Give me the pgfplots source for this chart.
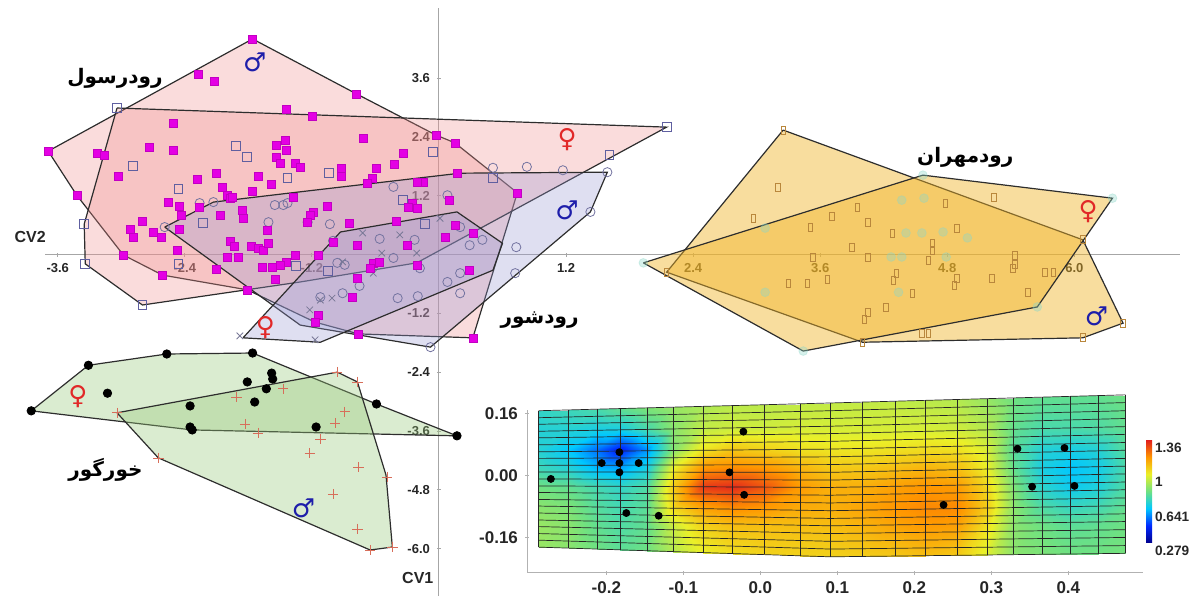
\documentclass[border=0pt]{standalone}
\usepackage{pgfplots}
\pgfplotsset{compat=1.18}
\usepackage{fontspec}
\setmainfont{Liberation Sans}
\newfontfamily\arabicfont[Script=Arabic]{DejaVu Sans}
\newfontfamily\symfont{DejaVu Sans}
\TeXXeTstate=1
\definecolor{mag}{RGB}{228,0,228}
\definecolor{sqb}{RGB}{95,95,160}
\definecolor{circ}{RGB}{115,115,160}
\definecolor{crossc}{RGB}{120,120,150}
\definecolor{pinkf}{RGB}{240,140,140}
\definecolor{lavf}{RGB}{150,150,210}
\definecolor{orf}{RGB}{240,180,40}
\definecolor{grf}{RGB}{150,200,120}
\definecolor{brownr}{RGB}{185,135,60}
\definecolor{cyanf}{RGB}{140,215,200}
\definecolor{plusc}{RGB}{215,110,90}
\definecolor{maleb}{RGB}{30,30,170}
\definecolor{femr}{RGB}{225,40,40}
\definecolor{hull}{RGB}{45,45,45}
\pgfkeys{/pgf/number format/assume math mode=true}
\begin{document}
\begin{tikzpicture}
\begin{axis}[
  name=main,
  x=52.95pt, y=24.5pt,
  xmin=-4.145, xmax=7.110, ymin=-6.969, ymax=5.194,
  axis lines=middle,
  axis line style={-, draw=gray!70, line width=0.5pt},
  x axis line style={shorten <=22.5pt, shorten >=6pt},
  y axis line style={shorten >=4pt},
  xtick={-3.6,-2.4,-1.2,1.2,2.4,3.6,4.8,6.0},
  ytick={-6.0,-4.8,-3.6,-2.4,-1.2,1.2,2.4,3.6},
  tick style={gray!70, line width=0.4pt},
  major tick length=2pt,
  tick label style={font=\fontsize{6.5}{7}\selectfont\bfseries, text=black!85},
  xticklabel style={/pgf/number format/.cd, fixed, fixed zerofill, precision=1},
  yticklabel style={/pgf/number format/.cd, fixed, fixed zerofill, precision=1},
  clip=false,
]
% ---------- hulls ----------
\addplot[fill=pinkf, fill opacity=0.3, draw=hull, line width=0.6pt] coordinates {
(-1.76,4.40) (-0.78,3.28) (-0.03,2.44) (0.15,2.28) (0.74,1.26) (0.32,-1.70) (-0.76,-1.62) (-1.17,-1.38) (-1.81,-0.72) (-2.61,-0.42) (-2.98,-0.01) (-3.42,1.21) (-3.69,2.11) (-1.76,4.40)};
\addplot[fill=pinkf, fill opacity=0.3, draw=hull, line width=0.6pt] coordinates {
(-3.04,2.99) (2.15,2.60) (-0.21,-0.17) (-1.31,-0.56) (-2.80,-1.03) (-3.34,-0.19) (-3.35,0.62) (-3.04,2.99)};
\addplot[fill=lavf, fill opacity=0.3, draw=hull, line width=0.6pt] coordinates {
(-2.59,0.56) (-2.13,1.07) (-1.31,1.28) (0.20,1.66) (1.59,1.68) (1.43,0.87) (-0.08,-1.89) (-1.31,-1.44) (-2.59,0.56)};
\addplot[fill=lavf, fill opacity=0.3, draw=hull, line width=0.6pt] coordinates {
(-1.85,-1.70) (-0.93,0.46) (0.17,0.87) (0.60,0.23) (0.51,-0.32) (-1.12,-1.79) (-1.85,-1.70)};
\addplot[fill=orf, fill opacity=0.45, draw=hull, line width=0.6pt] coordinates {
(3.25,2.54) (6.08,0.30) (6.46,-1.40) (6.08,-1.70) (4.00,-1.79) (2.15,-0.36) (3.25,2.54)};
\addplot[fill=orf, fill opacity=0.45, draw=hull, line width=0.6pt] coordinates {
(1.93,-0.17) (4.57,1.62) (6.36,1.15) (5.65,-1.07) (3.44,-1.97) (1.93,-0.17)};
\addplot[fill=grf, fill opacity=0.35, draw=hull, line width=0.6pt] coordinates {
(-3.85,-3.19) (-3.31,-2.26) (-2.57,-2.03) (-1.76,-2.01) (-0.59,-3.05) (0.17,-3.70) (-2.33,-3.58) (-3.85,-3.19)};
\addplot[fill=grf, fill opacity=0.35, draw=hull, line width=0.6pt] coordinates {
(-3.04,-3.23) (-0.96,-2.40) (-0.77,-2.60) (-0.50,-4.50) (-0.44,-5.97) (-0.65,-6.03) (-2.65,-4.15) (-3.04,-3.23)};
% ---------- points ----------
% Rudrasul, open squares
\addplot[only marks, mark=square, mark size=2.2pt, mark options={draw=sqb, line width=0.45pt}] coordinates {
(-3.04,2.99) (-2.89,1.81) (-2.46,1.34) (-1.92,2.21) (-1.81,1.99) (-1.43,1.56) (-1.04,1.66) (-0.06,2.09) (-0.34,1.11) (-2.23,0.64)
(-3.35,0.62) (-3.34,-0.19) (-2.46,-0.19) (-1.35,-0.23) (-1.05,-0.34) (-2.80,-1.03) (-0.13,0.62) (0.51,1.56) (1.61,2.03) (2.15,2.60)};
% Rudshur, open circles
\addplot[only marks, mark=o, mark size=2.3pt, mark options={draw=circ, line width=0.4pt}] coordinates {
(-2.26,1.05) (-1.55,1.01) (-1.47,1.01) (-1.43,1.05) (-1.61,0.66) (-1.24,0.66) (-1.03,0.62) (-0.43,1.38) (-0.56,0.32) (-1.00,0.28)
(-0.23,0.30) (-0.43,-0.07) (-0.18,-0.28) (-0.75,-0.64) (-1.12,-0.87) (-0.39,-0.89) (-0.20,-0.85) (-0.96,-0.17) (-0.89,-0.21)
(0.51,1.77) (0.83,1.79) (1.17,1.72) (1.59,1.68) (1.43,0.87) (0.08,1.21) (0.20,0.56) (0.29,0.19) (0.41,0.30) (0.73,0.15)
(0.20,-0.38) (0.08,-0.56) (0.72,-0.38) (-0.91,-0.79) (0.20,-0.79) (-0.08,-1.89) (-2.59,0.56) (-2.13,1.07)};
% Rudshur, crosses
\addplot[only marks, mark=x, mark size=2.3pt, mark options={draw=crossc, line width=0.4pt}] coordinates {
(-1.88,-1.66) (-1.12,-0.93) (-1.01,-0.89) (-0.72,0.44) (-0.54,0.03) (-0.21,0.03) (-0.91,-0.15) (-0.62,-0.38) (-1.17,-1.74) (-0.37,0.40) (0.01,0.74) (-1.22,-1.13)};
% Rudrasul, filled magenta squares
\addplot[only marks, mark=square*, mark size=2pt, mark options={fill=mag, draw=mag!85!black, line width=0.2pt}] coordinates {
(-1.76,4.40) (-2.27,3.68) (-2.12,3.54) (-0.78,3.28) (-1.44,2.97) (-1.20,2.83) (-2.51,2.68) (-0.72,2.38) (-0.03,2.44) (0.15,2.28)
(-2.74,2.19) (-2.51,2.13) (-3.69,2.11) (-3.23,2.07) (-3.16,2.03) (-0.34,2.07) (-1.54,2.23) (-1.45,2.34) (-1.44,2.13) (-1.54,1.99)
(-1.50,1.87) (-1.36,1.87) (-1.31,1.79) (-3.03,1.60) (-2.28,1.54) (-2.10,1.66) (-1.71,1.60) (-1.58,1.44) (-0.92,1.77) (-0.92,1.60)
(-0.59,1.77) (-0.63,1.56) (-0.68,1.46) (-0.42,1.85) (-0.15,1.48) (-3.42,1.21) (-2.05,1.38) (-2.00,1.21) (-1.97,1.15) (-1.76,1.30)
(-1.38,1.17) (-2.56,1.07) (-2.45,0.99) (-2.26,0.97) (-2.43,0.81) (-2.45,0.52) (-2.07,0.81) (-1.86,0.91) (-1.85,0.74) (-1.62,0.50)
(-1.19,0.87) (-1.22,0.81) (-1.06,0.99) (-0.25,1.05) (-0.21,0.95) (-0.29,0.97) (-2.80,0.68) (-2.92,0.52) (-2.89,0.36) (-2.70,0.46)
(-2.62,0.36) (-0.85,0.64) (-0.40,0.68) (-1.97,0.28) (-1.93,0.17) (-1.77,0.17) (-1.71,0.13) (-1.66,0.09) (-1.61,0.23) (-2.47,0.09)
(-2.00,-0.05) (-0.77,0.19) (-0.30,0.19) (-2.98,-0.01) (-1.36,-0.01) (-1.14,-0.01) (-1.44,-0.15) (-1.50,-0.21) (-1.57,-0.26) (-1.67,-0.26)
(-2.10,-0.30) (-2.61,-0.42) (-1.55,-0.50) (-0.77,-0.48) (-0.62,-0.17) (-0.56,-0.15) (-0.65,-0.28) (-0.21,-0.21) (-1.81,-0.72) (-0.82,-0.87)
(-1.14,-1.23) (-1.17,-1.38) (-0.76,-1.62) (0.17,1.66) (0.74,1.26) (0.10,1.11) (0.15,0.60) (0.32,0.44) (0.06,0.36) (0.29,-0.32)
(0.32,-1.70) (-1.00,0.26) (-1.90,-0.05) (-1.95,1.17) (-1.24,0.66) (-0.21,1.48)};
% Rudmehran, faint cyan points
\addplot[only marks, mark=*, mark size=2.2pt, color=cyanf, opacity=0.35] coordinates {
(4.37,1.11) (4.58,1.15) (4.41,0.44) (4.56,0.44) (4.76,0.46) (4.99,0.34) (4.27,-0.05) (4.37,-0.05) (4.79,-0.05) (4.34,-0.77)
(3.08,0.54) (3.08,-0.77) (1.93,-0.17) (4.57,1.62) (6.36,1.15) (5.65,-1.07) (3.44,-1.97)};
% Rudmehran, brown rectangles
\addplot[only marks, mark=square, mark size=2pt, mark options={xscale=0.55, draw=brownr, line width=0.4pt}] coordinates {
(3.20,1.36) (2.97,0.74) (3.51,0.56) (3.71,0.77) (3.95,0.97) (4.05,0.66) (3.90,0.15) (3.53,-0.05) (4.05,-0.05) (3.30,-0.58)
(3.48,-0.58) (3.67,-0.50) (4.05,-1.19) (4.02,-1.32) (4.22,-1.07) (4.78,1.05) (4.28,0.44) (4.89,0.54) (4.66,0.23) (4.66,0.09)
(4.62,-0.11) (5.44,-0.01) (5.44,-0.21) (5.42,-0.28) (4.32,-0.38) (4.29,-0.52) (4.89,-0.48) (4.87,-0.62) (5.22,-0.48) (5.72,-0.36)
(5.80,-0.36) (4.47,-0.79) (5.56,-0.77) (4.56,-1.60) (4.62,-1.60) (5.24,1.17)
(3.25,2.54) (6.08,0.30) (6.46,-1.40) (6.08,-1.70) (4.00,-1.79) (2.15,-0.36)};
% Khorgur, plus signs
\addplot[only marks, mark=+, mark size=2.6pt, mark options={draw=plusc, line width=0.35pt}] coordinates {
(-1.91,-2.91) (-1.47,-2.74) (-1.83,-3.46) (-1.71,-3.64) (-1.12,-3.77) (-1.22,-4.05) (-0.98,-3.44) (-0.89,-3.21) (-0.76,-4.34) (-1.00,-4.89)
(-0.77,-5.60) (-0.65,-6.03) (-0.44,-5.97) (-0.49,-4.54) (-0.77,-2.60) (-0.96,-2.40) (-2.65,-4.15) (-3.04,-3.23)};
% Khorgur, black dots
\addplot[only marks, mark=*, mark size=2.1pt, black] coordinates {
(-3.85,-3.19) (-3.31,-2.26) (-3.13,-2.83) (-2.57,-2.03) (-1.76,-2.01) (-2.35,-3.09) (-2.35,-3.52) (-2.33,-3.58) (-1.81,-2.60) (-1.74,-3.01)
(-1.63,-2.74) (-1.58,-2.42) (-1.57,-2.54) (-1.16,-3.52) (-0.59,-3.05) (0.17,-3.70)};
% ---------- labels ----------
\node[font=\arabicfont\bfseries\fontsize{10}{12}\selectfont] at (axis cs:-3.06,3.60) {\beginR رودرسول\endR};
\node[font=\arabicfont\bfseries\fontsize{10}{12}\selectfont] at (axis cs:0.95,-1.34) {\beginR رودشور\endR};
\node[font=\arabicfont\bfseries\fontsize{10}{12}\selectfont] at (axis cs:4.97,1.99) {\beginR رودمهران\endR};
\node[font=\arabicfont\bfseries\fontsize{10}{12}\selectfont] at (axis cs:-3.15,-4.40) {\beginR خورگور\endR};
\node[font=\symfont\fontsize{13}{13}\selectfont, text=maleb] at (axis cs:-1.74,3.93) {♂};
\node[font=\symfont\fontsize{13}{13}\selectfont, text=femr] at (axis cs:1.21,2.34) {♀};
\node[font=\symfont\fontsize{13}{13}\selectfont, text=maleb] at (axis cs:1.21,0.91) {♂};
\node[font=\symfont\fontsize{13}{13}\selectfont, text=femr] at (axis cs:-1.64,-1.50) {♀};
\node[font=\symfont\fontsize{13}{13}\selectfont, text=femr] at (axis cs:6.13,0.87) {♀};
\node[font=\symfont\fontsize{13}{13}\selectfont, text=maleb] at (axis cs:6.21,-1.26) {♂};
\node[font=\symfont\fontsize{13}{13}\selectfont, text=femr] at (axis cs:-3.41,-2.91) {♀};
\node[font=\symfont\fontsize{13}{13}\selectfont, text=maleb] at (axis cs:-1.28,-5.17) {♂};
\node[font=\bfseries\fontsize{8}{9}\selectfont, text=black!85] at (axis cs:-3.86,0.36) {CV2};
\node[font=\bfseries\fontsize{8}{9}\selectfont, text=black!85] at (axis cs:-0.20,-6.60) {CV1};
\end{axis}
% ================= inset =================
\begin{axis}[
  at={(263.5pt,11.65pt)}, anchor=south west,
  x=385pt, y=193.75pt,
  xmin=-0.303, xmax=0.497, ymin=-0.25, ymax=0.17,
  axis lines=left,
  axis line style={-, draw=gray!60, line width=0.5pt},
  xtick={-0.2,-0.1,0,0.1,0.2,0.3,0.4},
  ytick={-0.16,0,0.16},
  tick style={gray!60, line width=0.4pt},
  major tick length=2pt,
  tick label style={font=\fontsize{8.5}{9}\selectfont\bfseries, text=black!85},
  xticklabel style={/pgf/number format/.cd, fixed, fixed zerofill, precision=1},
  yticklabel style={/pgf/number format/.cd, fixed, fixed zerofill, precision=2},
  clip=false,
  colormap={insetmap}{rgb255=(0,0,140) rgb255=(0,40,255) rgb255=(0,200,255) rgb255=(110,225,130) rgb255=(235,240,40) rgb255=(255,150,0) rgb255=(225,30,30)},
  point meta min=0.279, point meta max=1.36,
  colorbar,
  colorbar style={
    at={(parent axis.north east)}, anchor=north west,
    xshift=-7pt, yshift=-15pt,
    width=3pt, height=51.5pt,
    axis line style={draw=none},
    ytick={0.279,0.641,1,1.36},
    yticklabels={\textbf{0.279},\textbf{0.641},\textbf{1},\textbf{1.36}},
    major tick length=0pt,
    yticklabel style={font=\fontsize{6.8}{8}\selectfont\bfseries, text=black!85, yshift=-4pt, xshift=-2pt},
  },
]
\addplot[surf, shader=interp, mesh/rows=8, mesh/cols=21, point meta=explicit] table[meta=c] {
x y c
-0.288 0.168 0.72
-0.249 0.170 0.74
-0.212 0.172 0.76
-0.182 0.174 0.80
-0.147 0.176 0.84
-0.113 0.177 0.88
-0.074 0.180 0.91
-0.036 0.182 0.93
0.005 0.184 0.93
0.052 0.186 0.94
0.091 0.188 0.94
0.132 0.190 0.94
0.175 0.193 0.94
0.214 0.195 0.93
0.256 0.197 0.92
0.295 0.199 0.88
0.329 0.201 0.82
0.366 0.203 0.80
0.403 0.205 0.80
0.439 0.207 0.80
0.474 0.209 0.82
-0.288 0.12 0.70
-0.249 0.12 0.70
-0.212 0.12 0.68
-0.182 0.12 0.68
-0.147 0.12 0.76
-0.113 0.12 0.86
-0.074 0.12 0.94
-0.036 0.12 0.96
0.005 0.12 0.96
0.052 0.12 0.97
0.091 0.12 0.97
0.132 0.12 0.97
0.175 0.12 0.97
0.214 0.12 0.97
0.256 0.12 0.96
0.295 0.12 0.92
0.329 0.12 0.80
0.366 0.12 0.76
0.403 0.12 0.76
0.439 0.12 0.77
0.474 0.12 0.80
-0.288 0.07 0.70
-0.249 0.07 0.64
-0.212 0.07 0.54
-0.182 0.07 0.44
-0.147 0.07 0.58
-0.113 0.07 0.85
-0.074 0.07 1.02
-0.036 0.07 1.08
0.005 0.07 1.06
0.052 0.07 1.03
0.091 0.07 1.02
0.132 0.07 1.02
0.175 0.07 1.03
0.214 0.07 1.04
0.256 0.07 1.03
0.295 0.07 0.97
0.329 0.07 0.78
0.366 0.07 0.70
0.403 0.07 0.68
0.439 0.07 0.70
0.474 0.07 0.78
-0.288 0.02 0.74
-0.249 0.02 0.70
-0.212 0.02 0.62
-0.182 0.02 0.60
-0.147 0.02 0.68
-0.113 0.02 1.00
-0.074 0.02 1.18
-0.036 0.02 1.20
0.005 0.02 1.18
0.052 0.02 1.12
0.091 0.02 1.08
0.132 0.02 1.08
0.175 0.02 1.10
0.214 0.02 1.12
0.256 0.02 1.10
0.295 0.02 1.00
0.329 0.02 0.80
0.366 0.02 0.68
0.403 0.02 0.64
0.439 0.02 0.67
0.474 0.02 0.76
-0.288 -0.03 0.82
-0.249 -0.03 0.80
-0.212 -0.03 0.75
-0.182 -0.03 0.72
-0.147 -0.03 0.77
-0.113 -0.03 1.08
-0.074 -0.03 1.32
-0.036 -0.03 1.34
0.005 -0.03 1.28
0.052 -0.03 1.17
0.091 -0.03 1.13
0.132 -0.03 1.13
0.175 -0.03 1.16
0.214 -0.03 1.18
0.256 -0.03 1.17
0.295 -0.03 1.05
0.329 -0.03 0.84
0.366 -0.03 0.71
0.403 -0.03 0.66
0.439 -0.03 0.69
0.474 -0.03 0.77
-0.288 -0.08 0.86
-0.249 -0.08 0.84
-0.212 -0.08 0.78
-0.182 -0.08 0.75
-0.147 -0.08 0.79
-0.113 -0.08 1.05
-0.074 -0.08 1.16
-0.036 -0.08 1.20
0.005 -0.08 1.18
0.052 -0.08 1.14
0.091 -0.08 1.13
0.132 -0.08 1.15
0.175 -0.08 1.18
0.214 -0.08 1.20
0.256 -0.08 1.20
0.295 -0.08 1.07
0.329 -0.08 0.86
0.366 -0.08 0.77
0.403 -0.08 0.73
0.439 -0.08 0.75
0.474 -0.08 0.80
-0.288 -0.13 0.88
-0.249 -0.13 0.86
-0.212 -0.13 0.80
-0.182 -0.13 0.77
-0.147 -0.13 0.80
-0.113 -0.13 0.95
-0.074 -0.13 1.06
-0.036 -0.13 1.10
0.005 -0.13 1.10
0.052 -0.13 1.10
0.091 -0.13 1.10
0.132 -0.13 1.12
0.175 -0.13 1.15
0.214 -0.13 1.17
0.256 -0.13 1.16
0.295 -0.13 1.03
0.329 -0.13 0.86
0.366 -0.13 0.82
0.403 -0.13 0.79
0.439 -0.13 0.80
0.474 -0.13 0.82
-0.288 -0.184 0.88
-0.249 -0.187 0.86
-0.212 -0.189 0.82
-0.182 -0.191 0.79
-0.147 -0.193 0.82
-0.113 -0.196 0.92
-0.074 -0.198 1.00
-0.036 -0.201 1.04
0.005 -0.203 1.06
0.052 -0.207 1.06
0.091 -0.209 1.06
0.132 -0.208 1.07
0.175 -0.207 1.08
0.214 -0.206 1.10
0.256 -0.205 1.08
0.295 -0.204 0.98
0.329 -0.203 0.86
0.366 -0.203 0.84
0.403 -0.202 0.82
0.439 -0.201 0.82
0.474 -0.200 0.83
};
% grid lines: horizontal
\addplot[black!85, line width=0.35pt, unbounded coords=jump] coordinates {
(-0.288,0.168) (0.091,0.188) (0.474,0.209) (0,nan)
(-0.288,0.150) (0.091,0.168) (0.474,0.189) (0,nan)
(-0.288,0.133) (0.091,0.148) (0.474,0.168) (0,nan)
(-0.288,0.115) (0.091,0.128) (0.474,0.148) (0,nan)
(-0.288,0.098) (0.091,0.109) (0.474,0.127) (0,nan)
(-0.288,0.080) (0.091,0.089) (0.474,0.107) (0,nan)
(-0.288,0.062) (0.091,0.069) (0.474,0.086) (0,nan)
(-0.288,0.045) (0.091,0.049) (0.474,0.066) (0,nan)
(-0.288,0.027) (0.091,0.029) (0.474,0.045) (0,nan)
(-0.288,0.010) (0.091,0.009) (0.474,0.025) (0,nan)
(-0.288,-0.008) (0.091,-0.011) (0.474,0.005) (0,nan)
(-0.288,-0.026) (0.091,-0.030) (0.474,-0.016) (0,nan)
(-0.288,-0.043) (0.091,-0.050) (0.474,-0.036) (0,nan)
(-0.288,-0.061) (0.091,-0.070) (0.474,-0.057) (0,nan)
(-0.288,-0.078) (0.091,-0.090) (0.474,-0.077) (0,nan)
(-0.288,-0.096) (0.091,-0.110) (0.474,-0.098) (0,nan)
(-0.288,-0.114) (0.091,-0.129) (0.474,-0.118) (0,nan)
(-0.288,-0.131) (0.091,-0.149) (0.474,-0.139) (0,nan)
(-0.288,-0.149) (0.091,-0.169) (0.474,-0.159) (0,nan)
(-0.288,-0.166) (0.091,-0.189) (0.474,-0.180) (0,nan)
(-0.288,-0.184) (0.091,-0.209) (0.474,-0.200)
};
% grid lines: vertical
\addplot[black!85, line width=0.35pt, unbounded coords=jump] coordinates {
(-0.288,0.168) (-0.288,-0.184) (0,nan)
(-0.249,0.170) (-0.249,-0.187) (0,nan)
(-0.212,0.172) (-0.212,-0.189) (0,nan)
(-0.182,0.174) (-0.182,-0.191) (0,nan)
(-0.147,0.176) (-0.147,-0.193) (0,nan)
(-0.113,0.177) (-0.113,-0.196) (0,nan)
(-0.074,0.180) (-0.074,-0.198) (0,nan)
(-0.036,0.182) (-0.036,-0.201) (0,nan)
(0.005,0.184) (0.005,-0.203) (0,nan)
(0.052,0.186) (0.052,-0.207) (0,nan)
(0.091,0.188) (0.091,-0.209) (0,nan)
(0.132,0.190) (0.132,-0.208) (0,nan)
(0.175,0.193) (0.175,-0.207) (0,nan)
(0.214,0.195) (0.214,-0.206) (0,nan)
(0.256,0.197) (0.256,-0.205) (0,nan)
(0.295,0.199) (0.295,-0.204) (0,nan)
(0.329,0.201) (0.329,-0.203) (0,nan)
(0.366,0.203) (0.366,-0.203) (0,nan)
(0.403,0.205) (0.403,-0.202) (0,nan)
(0.439,0.207) (0.439,-0.201) (0,nan)
(0.474,0.209) (0.474,-0.200)
};
\addplot[only marks, mark=*, mark size=1.75pt, black] coordinates {
(-0.272,-0.008) (-0.183,0.061) (-0.206,0.033) (-0.183,0.033) (-0.158,0.033) (-0.183,0.009) (-0.174,-0.096) (-0.132,-0.103)
(-0.022,0.114) (-0.040,0.009) (-0.021,-0.049) (0.334,0.070) (0.395,0.072) (0.353,-0.028) (0.408,-0.026) (0.238,-0.075)};
\end{axis}
\pgfresetboundingbox
\path[use as bounding box] (0,0) rectangle (596pt,298pt);
\end{tikzpicture}
\end{document}
